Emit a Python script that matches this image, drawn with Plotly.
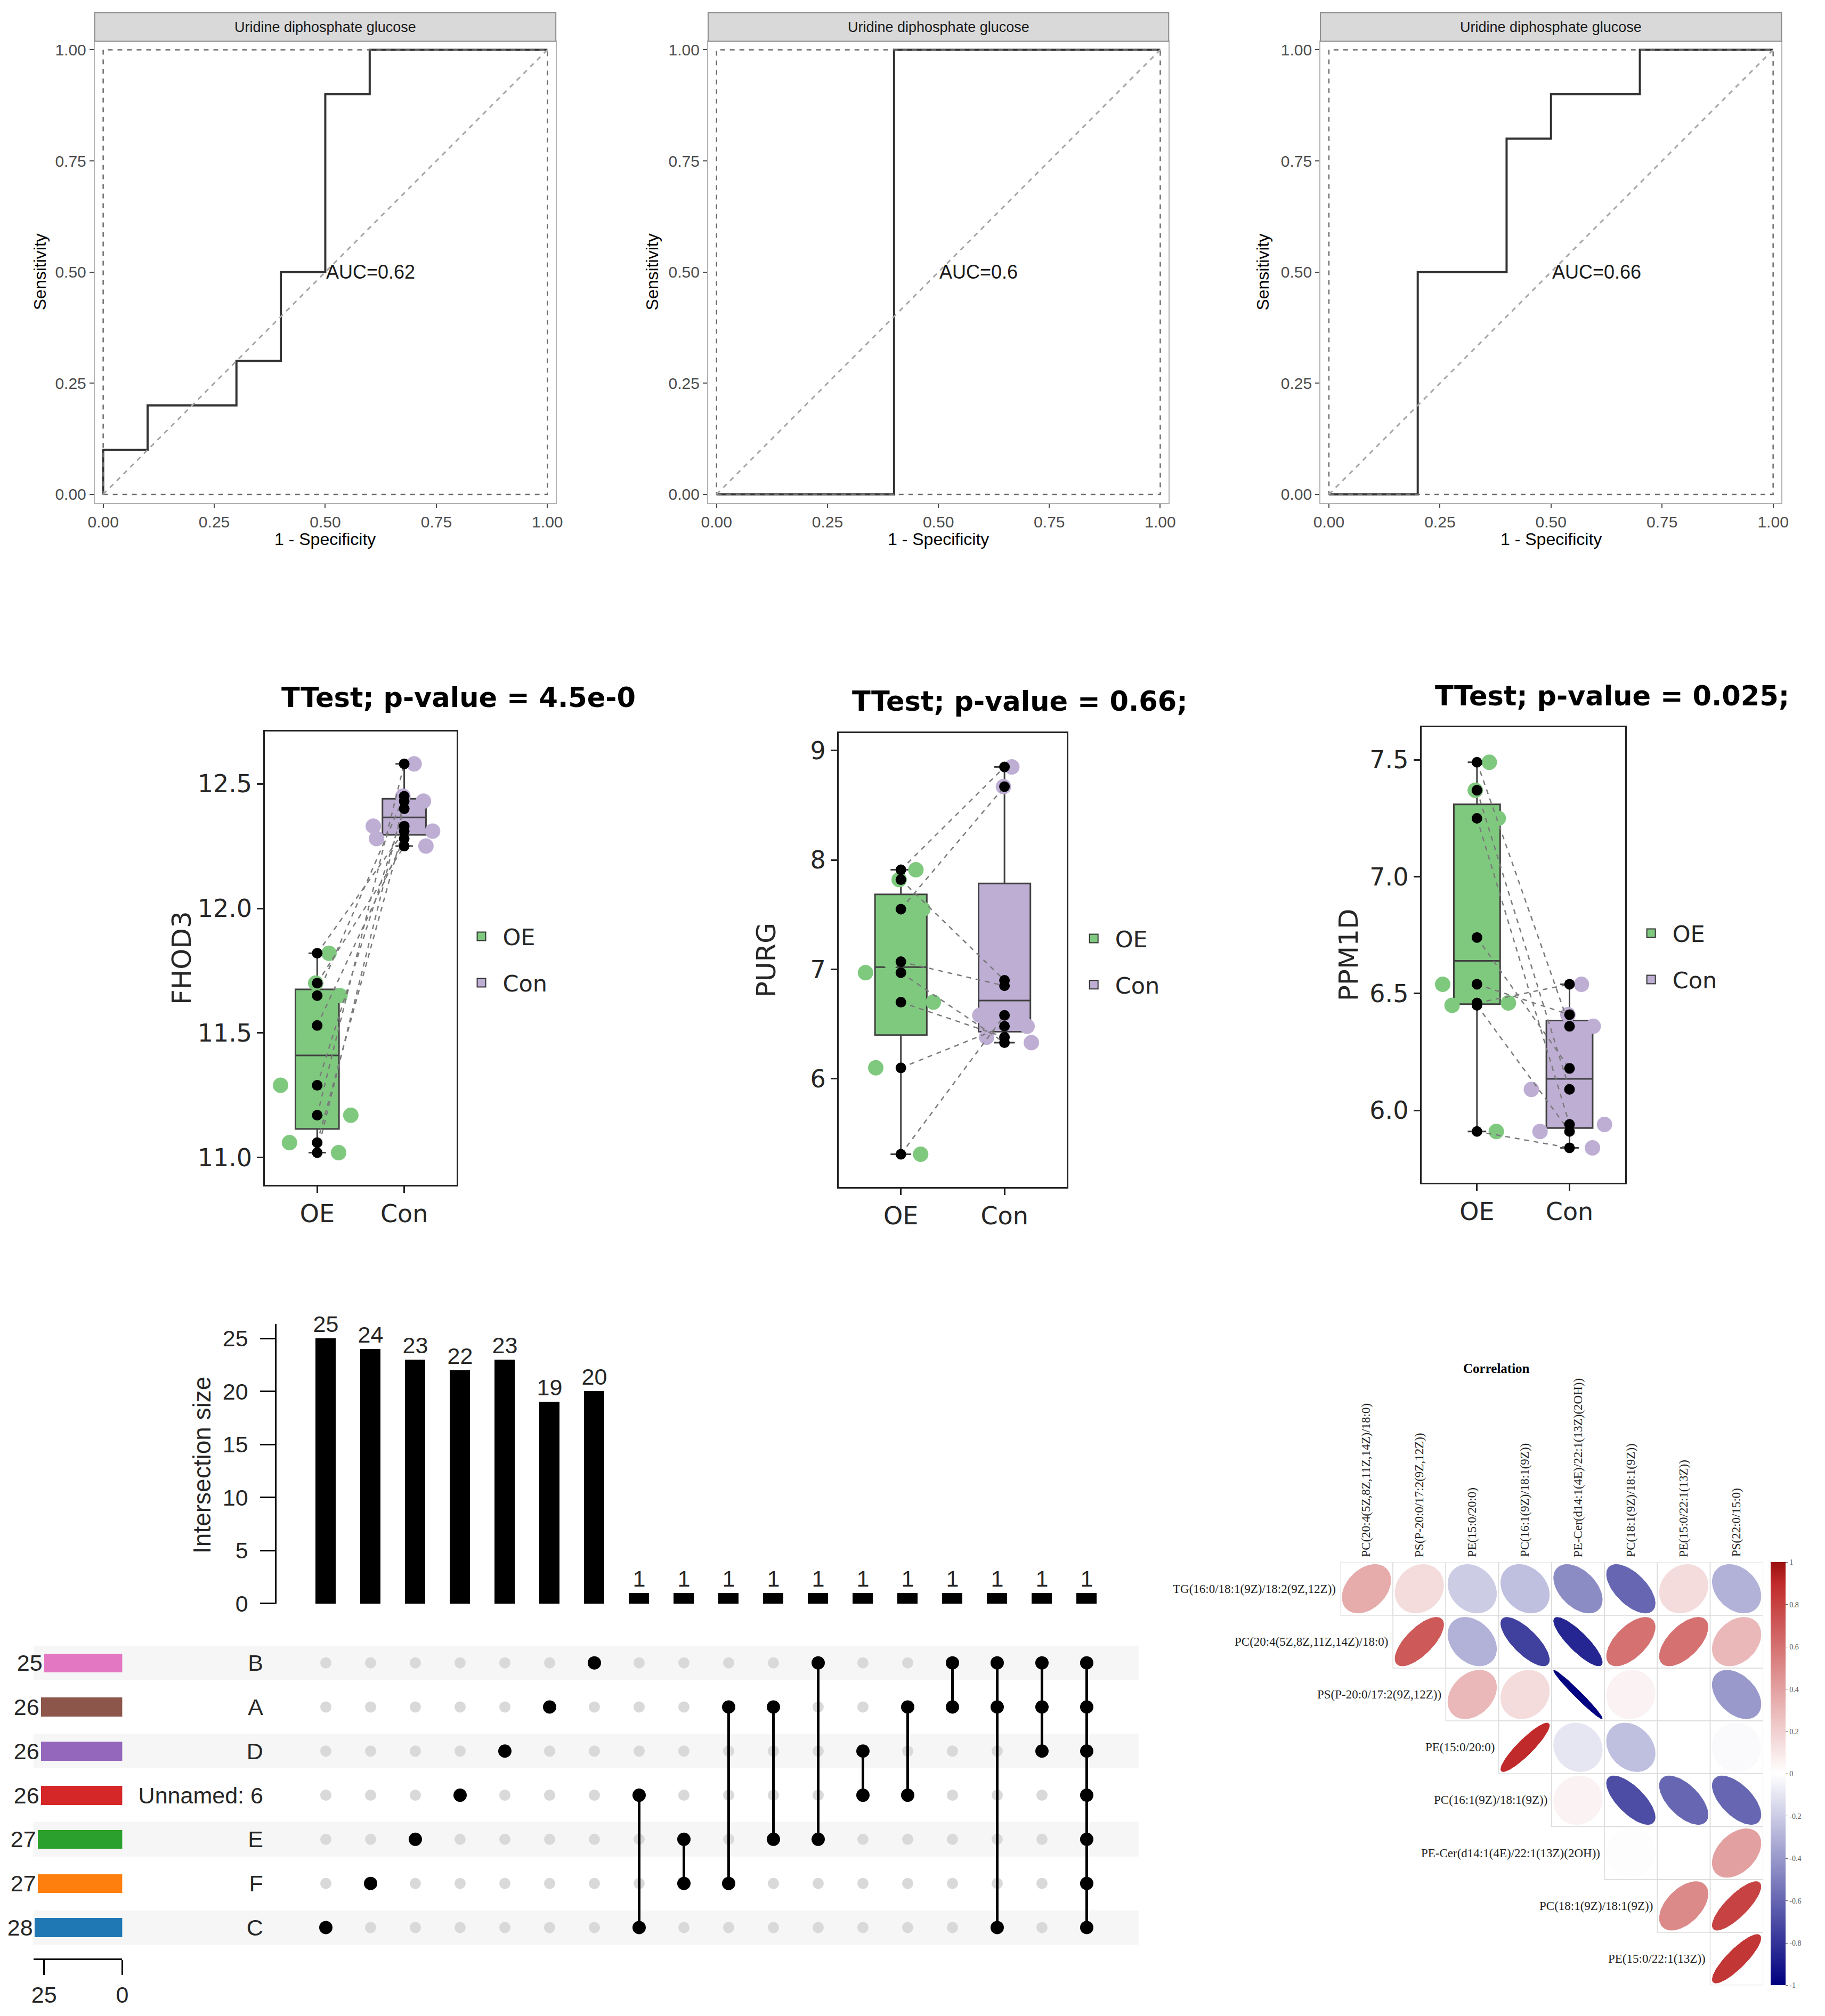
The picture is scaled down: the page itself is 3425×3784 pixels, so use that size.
import numpy as np
import plotly.graph_objects as go
from plotly.colors import sample_colorscale

W, H = 3425, 3784
OFF = 8  # default page margin of the html body
FW, FH = W - 2 * OFF, H - 2 * OFF
SANS = "Liberation Sans"
DEJAVU = "DejaVu Sans"
SERIF = "Liberation Serif"


def px(x):
    return (x - OFF) / FW


def py(y):
    return 1 - (y - OFF) / FH


# ---------------- ROC panels ----------------
roc_strip = "Uridine diphosphate glucose"
roc1_fpr = [0, 0, 0.1, 0.3, 0.4, 0.5, 0.6, 1.0]
roc1_tpr = [0, 0.1, 0.2, 0.3, 0.5, 0.9, 1.0, 1.0]
roc2_fpr = [0, 0.4, 1.0]
roc2_tpr = [0, 1.0, 1.0]
roc3_fpr = [0, 0.2, 0.4, 0.5, 0.7, 1.0]
roc3_tpr = [0, 0.5, 0.8, 0.9, 1.0, 1.0]
roc_auc = ["AUC=0.62", "AUC=0.6", "AUC=0.66"]
roc_ticks = [0, 0.25, 0.5, 0.75, 1.0]

# ---------------- paired box plots ----------------
groups = ["OE", "Con"]
genes = ["FHOD3", "PURG", "PPM1D"]
fhod3_oe = [11.82, 11.70, 11.65, 11.53, 11.29, 11.17, 11.06, 11.02]
fhod3_con = [12.31, 12.25, 12.45, 12.28, 12.40, 12.58, 12.33, 12.43]
purg_oe = [7.91, 7.82, 7.55, 7.07, 6.97, 6.70, 6.10, 5.31]
purg_con = [8.85, 6.90, 8.67, 6.85, 6.33, 6.38, 6.48, 6.58]
ppm1d_oe = [7.49, 7.37, 7.25, 6.74, 6.54, 6.46, 6.45, 5.91]
ppm1d_con = [6.36, 6.09, 5.94, 6.18, 6.41, 6.54, 5.91, 5.84]
box_titles = ["TTest; p-value = 4.5e-0", "TTest; p-value = 0.66;", "TTest; p-value = 0.025;"]
box_ticks = [[11.0, 11.5, 12.0, 12.5], [6, 7, 8, 9], [6.0, 6.5, 7.0, 7.5]]
box_tickfmt = [".1f", "d", ".1f"]

# ---------------- UpSet ----------------
set_names = ["B", "A", "D", "Unnamed: 6", "E", "F", "C"]
set_sizes = [25, 26, 26, 26, 27, 27, 28]
set_colors = ["#e377c2", "#8c564b", "#9467bd", "#d62728", "#2ca02c", "#ff7f0e", "#1f77b4"]
inter_sizes = [25, 24, 23, 22, 23, 19, 20, 1, 1, 1, 1, 1, 1, 1, 1, 1, 1, 1]
inter_members = [
    ["C"], ["F"], ["E"], ["Unnamed: 6"], ["D"], ["A"], ["B"],
    ["Unnamed: 6", "C"], ["E", "F"], ["A", "F"], ["A", "E"], ["B", "E"],
    ["D", "Unnamed: 6"], ["A", "Unnamed: 6"], ["B", "A"], ["B", "A", "C"],
    ["B", "A", "D"], ["B", "A", "D", "Unnamed: 6", "E", "F", "C"],
]

# ---------------- correlation ----------------
corr_cols = ["PC(20:4(5Z,8Z,11Z,14Z)/18:0)", "PS(P-20:0/17:2(9Z,12Z))", "PE(15:0/20:0)",
             "PC(16:1(9Z)/18:1(9Z))", "PE-Cer(d14:1(4E)/22:1(13Z)(2OH))",
             "PC(18:1(9Z)/18:1(9Z))", "PE(15:0/22:1(13Z))", "PS(22:0/15:0)"]
corr_rows = ["TG(16:0/18:1(9Z)/18:2(9Z,12Z))", "PC(20:4(5Z,8Z,11Z,14Z)/18:0)",
             "PS(P-20:0/17:2(9Z,12Z))", "PE(15:0/20:0)", "PC(16:1(9Z)/18:1(9Z))",
             "PE-Cer(d14:1(4E)/22:1(13Z)(2OH))", "PC(18:1(9Z)/18:1(9Z))", "PE(15:0/22:1(13Z))"]
corr_vals = [
    [0.35, 0.15, -0.2, -0.25, -0.45, -0.6, 0.15, -0.3],
    [0.7, -0.3, -0.75, -0.85, 0.6, 0.6, 0.3],
    [0.3, 0.15, -0.98, 0.05, 0.0, -0.4],
    [0.9, -0.1, -0.25, 0.0, -0.02],
    [0.05, -0.7, -0.6, -0.6],
    [0.01, 0.0, 0.4],
    [0.5, 0.8],
    [0.85],
]
corr_scale = [[0, "#00007f"], [0.5, "#ffffff"], [0.95, "#c02a2a"], [1, "#9a1010"]]
corr_ticks = [1, 0.8, 0.6, 0.4, 0.2, 0, -0.2, -0.4, -0.6, -0.8, -1]


def names(n):
    s = "" if n == 1 else str(n)
    return "xaxis" + s, "yaxis" + s, "x" + s, "y" + s


def label(x, y, text, font, angle=0, xanchor="center"):
    return dict(x=px(x), y=py(y), xref="paper", yref="paper", text=text, showarrow=False,
                xanchor=xanchor, yanchor="middle", textangle=angle, font=font)


fig = go.Figure()
axes = {}
ann = []
shapes = []

# ===== ROC =====
roc_x_px = [(166, 1038), (1326, 2197), (2484, 3356)]
roc_ytitle_x = [62, 1220, 2375]
roc_data = [(roc1_fpr, roc1_tpr), (roc2_fpr, roc2_tpr), (roc3_fpr, roc3_tpr)]
for k in range(3):
    xa, ya, xr, yr = names(k + 1)
    x0p, x1p = roc_x_px[k]
    common = dict(range=[-0.019, 1.019], tickvals=roc_ticks,
                  ticktext=[f"{t:.2f}" for t in roc_ticks], ticks="outside", ticklen=8,
                  tickwidth=2, tickcolor="#4d4d4d",
                  tickfont=dict(family=SANS, size=30, color="#4d4d4d"),
                  showline=True, mirror=True, linecolor="#b3b3b3", linewidth=2,
                  showgrid=False, zeroline=False)
    axes[xa] = dict(domain=[px(x0p), px(x1p)], anchor=yr, **common)
    axes[ya] = dict(domain=[py(949), py(77)], anchor=xr, **common)
    shapes.append(dict(type="rect", xref=xr, yref=yr, x0=0, y0=0, x1=1, y1=1,
                       line=dict(color="#6f6f6f", width=2.5, dash="dash")))
    shapes.append(dict(type="line", xref=xr, yref=yr, x0=0, y0=0, x1=1, y1=1,
                       line=dict(color="#a6a6a6", width=3, dash="dash")))
    fpr, tpr = roc_data[k]
    fig.add_trace(go.Scatter(x=fpr, y=tpr, mode="lines", line=dict(color="#333333", width=4, shape="hv"),
                             xaxis=xr, yaxis=yr, showlegend=False))
    ann.append(dict(x=0.5, y=0.5, xref=xr, yref=yr, text=roc_auc[k], showarrow=False,
                    xanchor="left", yanchor="middle", font=dict(family=SANS, size=36, color="#1a1a1a")))
    shapes.append(dict(type="rect", xref="paper", yref="paper", x0=px(x0p), x1=px(x1p),
                       y0=py(77), y1=py(23), fillcolor="#d9d9d9", line=dict(color="#8c8c8c", width=2)))
    ann.append(label((x0p + x1p) / 2, 50, roc_strip, dict(family=SANS, size=27, color="#1a1a1a")))
    ann.append(label((x0p + x1p) / 2, 1018, "1 - Specificity", dict(family=SANS, size=32, color="#000")))
    ann.append(label(roc_ytitle_x[k], 513, "Sensitivity", dict(family=SANS, size=32, color="#000"), angle=-90))

# ===== box plots =====
box_data = [(fhod3_oe, fhod3_con), (purg_oe, purg_con), (ppm1d_oe, ppm1d_con)]
box_x_px = [(488, 850), (1573, 2004), (2675, 3060)]
box_y_px = [(1381, 2238), (1384, 2242), (1373, 2234)]
box_ranges = [[10.89, 12.71], [5.01, 9.16], [5.69, 7.64]]
box_title_pos = [(517, 1317, "left"), (1916, 1324, "center"), (3036, 1314, "center")]
box_ytitle_x = [330, 1436, 2537]
legend_pos = [(857, 1812), (2015, 1816), (3069, 1806)]
fills = ["#7fc97f", "#beaed4"]
for k in range(3):
    n = k + 4
    xa, ya, xr, yr = names(n)
    x0p, x1p = box_x_px[k]
    y0p, y1p = box_y_px[k]
    axes[xa] = dict(domain=[px(x0p), px(x1p)], anchor=yr, type="category",
                    categoryorder="array", categoryarray=groups, range=[-0.6, 1.6],
                    ticks="outside", ticklen=12, tickwidth=2.5, tickcolor="#222",
                    tickfont=dict(family=DEJAVU, size=46, color="#262626"),
                    showline=True, mirror=True, linecolor="#222", linewidth=3, showgrid=False)
    axes[ya] = dict(domain=[py(y1p), py(y0p)], anchor=xr, range=box_ranges[k],
                    tickvals=box_ticks[k], tickformat=box_tickfmt[k],
                    ticks="outside", ticklen=12, tickwidth=2.5, tickcolor="#222",
                    tickfont=dict(family=DEJAVU, size=46, color="#262626"),
                    showline=True, mirror=True, linecolor="#222", linewidth=3,
                    showgrid=False, zeroline=False)
    lg = "legend" if k == 0 else f"legend{k + 1}"
    oe, con = box_data[k]
    for g, vals in enumerate([oe, con]):
        fig.add_trace(go.Box(x=[groups[g]] * len(vals), y=vals, boxpoints=False, width=0.5,
                             whiskerwidth=0.4, fillcolor=fills[g], line=dict(color="#404040", width=3),
                             xaxis=xr, yaxis=yr, showlegend=False))
    for g, vals in enumerate([oe, con]):
        fig.add_trace(go.Box(x=[groups[g]] * len(vals), y=vals, boxpoints="all", jitter=1, pointpos=0,
                             width=1.0, fillcolor="rgba(0,0,0,0)", line=dict(color="rgba(0,0,0,0)"),
                             marker=dict(color=fills[g], size=29), xaxis=xr, yaxis=yr, showlegend=False))
    lx, ly = [], []
    for a, b in zip(oe, con):
        lx += ["OE", "Con", None]
        ly += [a, b, None]
    fig.add_trace(go.Scatter(x=lx, y=ly, mode="lines", line=dict(color="#7a7a7a", width=2.5, dash="dash"),
                             xaxis=xr, yaxis=yr, showlegend=False))
    fig.add_trace(go.Scatter(x=["OE"] * len(oe) + ["Con"] * len(con), y=oe + con, mode="markers",
                             marker=dict(color="black", size=20), xaxis=xr, yaxis=yr, showlegend=False))
    for g in range(2):
        fig.add_trace(go.Scatter(x=[None], y=[None], mode="markers", name=groups[g],
                                 marker=dict(symbol="square", size=26, color=fills[g],
                                             line=dict(color="#333", width=2)),
                                 legend=lg, legendgroup=f"{k}{g}", xaxis=xr, yaxis=yr))
    tx, ty, anc = box_title_pos[k]
    ann.append(label(tx, ty, box_titles[k], dict(family=DEJAVU, size=51, color="#000", weight="bold"),
                     xanchor=anc))
    ann.append(label(box_ytitle_x[k], (y0p + y1p) / 2, genes[k],
                     dict(family=DEJAVU, size=50, color="#262626"), angle=-90))
    lpx, lpy = legend_pos[k]
    axes[lg] = dict(x=px(lpx), y=py(lpy), xanchor="left", yanchor="middle", bgcolor="rgba(0,0,0,0)",
                    font=dict(family=DEJAVU, size=43, color="#262626"), tracegroupgap=28,
                    traceorder="grouped", itemwidth=70, itemsizing="trace")

# ===== UpSet =====
col_idx = list(range(len(inter_sizes)))
axes["xaxis7"] = dict(domain=[px(560.7), px(2084.3)], range=[-0.5, 17.5], anchor="y7", visible=False)
axes["yaxis7"] = dict(domain=[py(3029), py(2501)], range=[0, 26.35], anchor="free", position=px(508),
                      tickvals=[0, 5, 10, 15, 20, 25], ticks="outside", ticklen=28, tickwidth=3,
                      tickcolor="#000", showline=True, linecolor="#000", linewidth=3, showgrid=False,
                      zeroline=False, ticklabelstandoff=14,
                      tickfont=dict(family=SANS, size=43, color="#262626"))
fig.add_trace(go.Bar(x=col_idx, y=inter_sizes, width=0.45, marker=dict(color="black", line=dict(width=0)),
                     text=inter_sizes, textposition="outside", cliponaxis=False, constraintext="none",
                     textfont=dict(family=SANS, size=43, color="#262626"),
                     xaxis="x7", yaxis="y7", showlegend=False))
ann.append(label(368, 2767, "Intersection size", dict(family=SANS, size=46, color="#262626"), angle=-90))

axes["xaxis8"] = dict(domain=[px(560.7), px(2084.3)], range=[-0.5, 17.5], anchor="y8", visible=False)
axes["yaxis8"] = dict(domain=[py(3682.7), py(3099.3)], anchor="x8", type="category",
                      categoryorder="array", categoryarray=set_names, range=[6.5, -0.5],
                      ticks="outside", ticklen=66, tickcolor="rgba(0,0,0,0)", showline=False,
                      showgrid=False, zeroline=False,
                      tickfont=dict(family=SANS, size=43, color="#262626"))
for r in range(0, len(set_names), 2):
    shapes.append(dict(type="rect", xref="paper", yref="y8", x0=px(50), x1=px(2140), y0=r - 0.39, y1=r + 0.39,
                       fillcolor="#f6f6f6", line=dict(width=0), layer="below"))
gx, gy, bx, by, lx, ly = [], [], [], [], [], []
for c, members in enumerate(inter_members):
    rows = [set_names.index(m) for m in members]
    for s in set_names:
        if s in members:
            bx.append(c)
            by.append(s)
        else:
            gx.append(c)
            gy.append(s)
    if len(rows) > 1:
        lx += [c, c, None]
        ly += [set_names[min(rows)], set_names[max(rows)], None]
fig.add_trace(go.Scatter(x=gx, y=gy, mode="markers", marker=dict(color="#d9d9d9", size=21),
                         xaxis="x8", yaxis="y8", showlegend=False))
fig.add_trace(go.Scatter(x=lx, y=ly, mode="lines", line=dict(color="black", width=5),
                         xaxis="x8", yaxis="y8", showlegend=False))
fig.add_trace(go.Scatter(x=bx, y=by, mode="markers", marker=dict(color="black", size=25),
                         xaxis="x8", yaxis="y8", showlegend=False))

axes["xaxis9"] = dict(domain=[px(50), px(218)], range=[28.4, 0], anchor="free", position=py(3701),
                      tickvals=[25, 0], ticks="outside", ticklen=28, tickwidth=3, tickcolor="#000",
                      showline=True, linecolor="#000", linewidth=3, showgrid=False, zeroline=False,
                      tickfont=dict(family=SANS, size=43, color="#262626"))
axes["yaxis9"] = dict(domain=[py(3682.7), py(3099.3)], anchor="x9", type="category",
                      categoryorder="array", categoryarray=set_names, range=[6.5, -0.5], visible=False)
fig.add_trace(go.Bar(x=set_sizes, y=set_names, orientation="h", width=0.43,
                     marker=dict(color=set_colors, line=dict(width=0)), text=set_sizes,
                     textposition="outside", cliponaxis=False, constraintext="none",
                     textfont=dict(family=SANS, size=43, color="#262626"),
                     xaxis="x9", yaxis="y9", showlegend=False))

# ===== correlation ellipses =====
axes["xaxis10"] = dict(domain=[px(2521), px(3321)], range=[-0.5, 7.5], anchor="y10", visible=False)
axes["yaxis10"] = dict(domain=[py(3750), py(2951)], range=[7.5, -0.5], anchor="x10", visible=False)
t = np.linspace(0, 2 * np.pi, 80)
gxs, gys = [], []
cx, cy, cv = [], [], []
for i, row in enumerate(corr_vals):
    for m, r in enumerate(row):
        j = i + m
        d = np.arccos(r)
        ex = j + 0.92 * np.cos(t + d / 2) / 2
        ey = i - 0.92 * np.cos(t - d / 2) / 2
        col = sample_colorscale(corr_scale, [(r + 1) / 2])[0]
        fig.add_trace(go.Scatter(x=ex, y=ey, mode="lines", fill="toself", fillcolor=col,
                                 line=dict(color=col, width=1), xaxis="x10", yaxis="y10",
                                 showlegend=False, hoverinfo="skip"))
        gxs += [j - 0.5, j + 0.5, j + 0.5, j - 0.5, j - 0.5, None]
        gys += [i - 0.5, i - 0.5, i + 0.5, i + 0.5, i - 0.5, None]
        cx.append(j)
        cy.append(i)
        cv.append(r)
fig.add_trace(go.Scatter(x=gxs, y=gys, mode="lines", line=dict(color="#dcdcdc", width=1.5),
                         xaxis="x10", yaxis="y10", showlegend=False, hoverinfo="skip"))
fig.add_trace(go.Scatter(x=cx, y=cy, mode="markers", xaxis="x10", yaxis="y10", showlegend=False,
                         marker=dict(color=cv, colorscale=corr_scale, cmin=-1, cmax=1, size=2, opacity=0,
                                     showscale=True,
                                     colorbar=dict(x=px(3335), xanchor="left", y=py(2951), yanchor="top",
                                                   len=799 / FH, lenmode="fraction", thickness=28,
                                                   outlinewidth=0, xpad=0, ypad=0,
                                                   tickvals=corr_ticks,
                                                   ticktext=[f"{v:g}" for v in corr_ticks],
                                                   ticks="outside", ticklen=5, tickcolor="#666",
                                                   tickfont=dict(family=SERIF, size=14, color="#555")))))
for j, name in enumerate(corr_cols):
    ann.append(dict(x=j, y=-0.5, xref="x10", yref="y10", text=name, textangle=-90, showarrow=False,
                    xanchor="center", yanchor="bottom", yshift=8,
                    font=dict(family=SERIF, size=23, color="#222")))
for i, name in enumerate(corr_rows):
    ann.append(dict(x=i - 0.5, y=i, xref="x10", yref="y10", text=name, showarrow=False,
                    xanchor="right", yanchor="middle", xshift=-6,
                    font=dict(family=SERIF, size=23, color="#222")))
ann.append(label(2817, 2585, "Correlation", dict(family=SERIF, size=25, color="#000", weight="bold")))

fig.update_layout(width=FW, height=FH, margin=dict(l=0, r=0, t=0, b=0), paper_bgcolor="white",
                  plot_bgcolor="rgba(0,0,0,0)", annotations=ann, shapes=shapes, boxmode="overlay",
                  bargap=0, **axes)

fig.write_html("out.html")
